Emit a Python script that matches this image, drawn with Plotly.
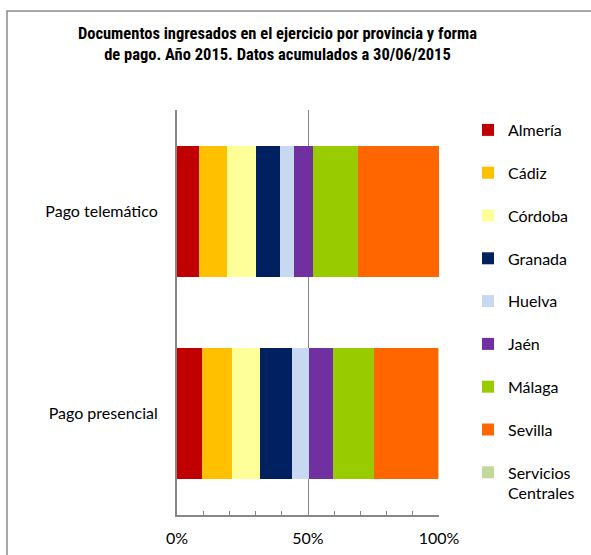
import plotly.graph_objects as go

categories = ["Pago telemático", "Pago presencial"]
provinces = ["Almería", "Cádiz", "Córdoba", "Granada", "Huelva", "Jaén",
             "Málaga", "Sevilla", "Servicios<br>Centrales"]
telematico = [8.4, 10.8, 10.8, 9.4, 5.4, 7.1, 17.1, 31.0, 0.0]
presencial = [9.5, 11.6, 10.7, 12.1, 6.4, 9.2, 15.6, 24.6, 0.3]
colors = ["#C00000", "#FFC000", "#FFFF99", "#002060", "#C6D9F1", "#7030A0",
          "#99CC00", "#FF6600", "#C3D69B"]
x_tickvals = [0, 50, 100]
x_ticktext = ["0%", "50%", "100%"]

W, H = 591, 555
L, R, T, B = 177, 439, 110, 515

fig = go.Figure()
for name, t, p, c in zip(provinces, telematico, presencial, colors):
    fig.add_trace(go.Bar(
        y=categories, x=[t, p], name=name, orientation="h",
        marker=dict(color=c, line=dict(width=0)),
        legendgroup=name,
    ))

def px(xp):
    return (xp - L) / (R - L)

def py(yp):
    return (B - yp) / (B - T)

fig.update_layout(
    width=W, height=H,
    margin=dict(l=L, r=W - R, t=T, b=H - B, autoexpand=False),
    barmode="stack", barnorm="percent", bargap=0.353,
    plot_bgcolor="white", paper_bgcolor="white",
    font=dict(family="Lato, Open Sans, sans-serif", size=16, color="#000000"),
    title=dict(
        text="<b>Documentos ingresados en el ejercicio por provincia y forma<br>de pago. Año 2015. Datos acumulados a 30/06/2015</b>",
        x=px(277.5), xref="paper", xanchor="center",
        y=1 - 39 / H, yref="container", yanchor="top",
        font=dict(family="Liberation Sans Narrow, Arial Narrow, Roboto Condensed, sans-serif",
                  size=16.5, color="#000000"),
    ),
    xaxis=dict(
        range=[0, 100], tickvals=x_tickvals, ticktext=x_ticktext,
        showgrid=True, gridcolor="#868686", gridwidth=1,
        showline=True, linecolor="#868686", linewidth=2,
        ticks="inside", ticklen=4, tickcolor="#868686",
        minor=dict(dtick=10, ticks="inside", ticklen=4, tickcolor="#868686", showgrid=False),
        zeroline=False, fixedrange=True,
        ticklabelstandoff=8,
    ),
    yaxis=dict(
        autorange="reversed", showline=True, linecolor="#868686", linewidth=2,
        showgrid=False, ticks="", ticklabelstandoff=14, fixedrange=True,
    ),
    legend=dict(
        x=px(468), xanchor="left", y=py(113), yanchor="top",
        traceorder="grouped", tracegroupgap=19, valign="top",
        font=dict(size=16), maxheight=500,
        bgcolor="rgba(0,0,0,0)",
    ),
    shapes=[dict(
        type="rect", xref="paper", yref="paper",
        x0=px(7), y0=py(600), x1=px(640), y1=py(11),
        line=dict(color="#8C8C8C", width=1.5), fillcolor="rgba(0,0,0,0)",
        layer="below",
    )],
)

fig.write_html("out.html", config={"displayModeBar": False},
               post_script="document.body.style.margin='0';")
